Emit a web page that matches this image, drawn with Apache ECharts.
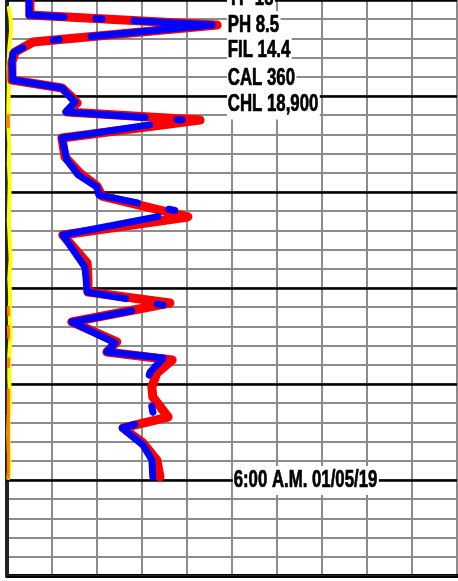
<!DOCTYPE html>
<html><head><meta charset="utf-8">
<script src="https://cdn.jsdelivr.net/npm/echarts@6/dist/echarts.min.js"></script>
<style>html,body{margin:0;padding:0;background:#fff}#c{width:458px;height:581px}</style>
</head><body><div id="c"></div>
<script>
// Trace (red): x in chart units, y in grid-row units (downwards)
const redX=[0.51,0.51,4.67,0.58,0.18,0.11,0.11,1.22,1.44,1.56,1.33,4.29,1.22,1.29,1.62,2.00,2.11,4.02,1.24,1.78,1.80,1.80,3.62,1.44,2.44,2.22,3.67,3.33,3.22,3.24,3.58,2.58,3.02,3.33,3.40];
const redY=[0,0.78,1.30,2.19,2.71,3.23,4.17,4.58,5.05,5.36,5.83,6.25,7.19,8.18,9.01,9.69,10.21,11.30,12.24,13.70,14.58,15.21,15.78,16.77,17.81,18.33,18.75,19.43,20.16,20.68,21.72,22.29,23.07,23.96,24.84];
// Trace (blue dashed)
const blueX=[0.49,0.49,4.56,0.58,0.13,0.11,0.13,1.22,1.40,1.51,1.31,3.89,1.22,1.33,1.58,2.00,2.04,3.89,1.24,1.73,1.76,1.78,3.47,1.44,2.40,2.22,3.47,3.18,3.11,3.18,3.24,3.36,2.56,3.02,3.22,3.24];
const blueY=[0,0.78,1.30,2.19,2.76,3.28,4.17,4.58,5.05,5.31,5.83,6.25,7.19,8.33,9.11,9.74,10.16,11.04,12.24,13.91,14.58,15.21,15.89,16.77,17.86,18.33,18.65,19.38,19.95,20.68,21.46,21.77,22.29,23.18,23.96,24.84];
// Edge trace (yellow)
const yellowX=[0.04,0.08,0.09,0.05,0.03,0.04,0.03,0.03,0.05,0.04,0.06,0.05,0.04,0.06,0.08,0.05,0.07,0.06,0.08,0.05,0.05,0.07,0.04,0.03,0.04,0.06,0.03];
const yellowY=[0.4,1.0,1.6,2.5,3.5,4.5,5.5,6.5,7.5,8.5,9.5,10.5,11.5,12.5,13.5,14.5,15.5,16.5,17.5,18.5,19.7,21.1,21.6,22.5,23.5,24.3,24.9];
// Edge trace (orange)
const orangeX=[0.03,0.03,null,0.03,0.04,null,0.03,0.04,null,0.04,0.03,null,0.03,0.03,0.03,0.03,0.03,0.03];
const orangeY=[6.0,6.6,null,16.0,16.4,null,17.0,17.6,null,18.7,19.1,null,20.3,21.5,22.5,23.5,24.3,24.9];
// Annotations
const noteTexts=['YP 15','PH 8.5','FIL 14.4','CAL 360','CHL 18,900','6:00 A.M. 01/05/19'];
const noteX=[4.89,4.89,4.89,4.89,4.89,5.02];
const noteY=[-0.05,1.33,2.66,4.08,5.47,25.02];

function pairs(xs,ys){return xs.map((x,i)=> (x===null? ['-','-'] : [x,ys[i]]));}

const chart=echarts.init(document.getElementById('c'),null,{renderer:'canvas'});
const grey={color:'#8c8c8c',width:2};
chart.setOption({
  animation:false,
  grid:{left:7,right:1,top:0,bottom:5,containLabel:false},
  xAxis:{type:'value',min:0,max:10,interval:1,z:0,
    axisLabel:{show:false},axisTick:{show:false},
    axisLine:{show:true,onZero:false,lineStyle:{color:'#000',width:4}},
    splitLine:{show:true,lineStyle:grey}},
  yAxis:[
    {type:'value',inverse:true,min:0,max:30,interval:1,z:1,
     axisLabel:{show:false},axisTick:{show:false},
     axisLine:{show:true,onZero:false,lineStyle:{color:'#222',width:4}},
     splitLine:{show:true,lineStyle:grey}},
    {type:'value',inverse:true,min:0,max:30,interval:5,z:2,position:'left',
     axisLabel:{show:false},axisTick:{show:false},axisLine:{show:false},
     splitLine:{show:true,lineStyle:{color:'#000',width:2.5}}}
  ],
  series:[
    {type:'line',data:pairs(yellowX,yellowY),showSymbol:false,silent:true,z:5,
     lineStyle:{color:'#ffff00',width:4,cap:'round',join:'round'}},
    {type:'line',data:pairs(orangeX,orangeY),showSymbol:false,silent:true,z:6,connectNulls:false,
     lineStyle:{color:'#ff8000',width:3,cap:'round',join:'round'}},
    {type:'line',data:pairs(redX,redY),showSymbol:false,silent:true,z:7,
     lineStyle:{color:'#ff0000',width:9,cap:'round',join:'round'}},
    {type:'line',data:pairs(blueX,blueY),showSymbol:false,silent:true,z:8,
     lineStyle:{color:'#0000ff',width:7,cap:'round',join:'round',type:[200,32,6,32],dashOffset:150}}
  ]
});
const g=noteTexts.map((t,i)=>{
  const p=chart.convertToPixel({xAxisIndex:0,yAxisIndex:0},[noteX[i],noteY[i]]);
  return {type:'text',x:p[0],y:p[1],scaleX:0.73,z:100,silent:true,
    style:{text:t,fill:'#000',stroke:'#000',lineWidth:0.7,font:'bold 23px "Liberation Sans", Arial, sans-serif',
      backgroundColor:'#fff',padding:[3,2,3,1],align:'left',verticalAlign:'middle'}};
});
chart.setOption({graphic:g});
</script></body></html>
